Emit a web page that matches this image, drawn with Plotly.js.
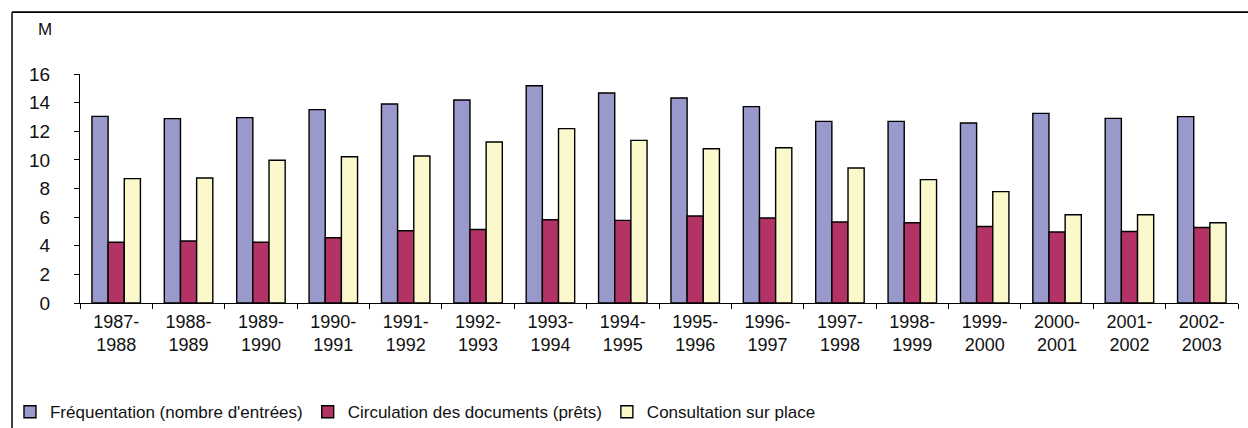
<!DOCTYPE html>
<html>
<head>
<meta charset="utf-8">
<script src="https://cdn.plot.ly/plotly-3.0.1.min.js"></script>
<style>html,body{margin:0;padding:0;background:#fff;}#chart{width:1248px;height:428px;}</style>
</head>
<body>
<div id="chart"></div>
<script>
const categories = ["1987-<br>1988","1988-<br>1989","1989-<br>1990","1990-<br>1991","1991-<br>1992","1992-<br>1993","1993-<br>1994","1994-<br>1995","1995-<br>1996","1996-<br>1997","1997-<br>1998","1998-<br>1999","1999-<br>2000","2000-<br>2001","2001-<br>2002","2002-<br>2003"];
const frequentation = [13.04,12.88,12.95,13.51,13.90,14.18,15.18,14.67,14.32,13.72,12.69,12.69,12.58,13.25,12.90,13.02];
const circulation = [4.24,4.33,4.24,4.56,5.05,5.14,5.82,5.77,6.08,5.94,5.66,5.61,5.35,4.96,5.00,5.28];
const consultation = [8.69,8.73,9.97,10.22,10.27,11.25,12.18,11.36,10.78,10.85,9.43,8.62,7.78,6.17,6.17,5.61];
const seriesNames = ["Fréquentation (nombre d'entrées)","Circulation des documents (prêts)","Consultation sur place"];
const colors = ["#9999cc","#b33366","#fbf8cc"];

const mk = (vals, i) => ({
  type: 'bar', x: categories, y: vals, name: seriesNames[i],
  marker: {color: colors[i], line: {color: '#000', width: 1.4}},
  hoverinfo: 'y'
});

const data = [mk(frequentation,0), mk(circulation,1), mk(consultation,2)];

const fam = 'Liberation Sans, Arial, sans-serif';

const layout = {
  width: 1248, height: 428,
  margin: {l: 80, r: 10, t: 74, b: 125},
  paper_bgcolor: '#fff', plot_bgcolor: '#fff',
  barmode: 'group', bargap: 0.33, bargroupgap: 0,
  font: {family: fam, color: '#000', size: 18},
  showlegend: true,
  legend: {orientation: 'h', xref: 'container', x: 0.008, xanchor: 'left',
           yref: 'container', y: 0.037, yanchor: 'middle', bgcolor: 'rgba(0,0,0,0)',
           font: {size: 17, family: fam, color: '#111'}, itemwidth: 30, traceorder: 'normal'},
  xaxis: {
    type: 'category', showline: true, linecolor: '#000', linewidth: 1,
    ticks: 'outside', tickson: 'boundaries', ticklen: 5, tickcolor: '#000',
    showgrid: false, tickfont: {size: 18, color: '#111', family: fam},
    ticklabelstandoff: 2, fixedrange: true
  },
  yaxis: {
    range: [0, 16], dtick: 2, showline: true, linecolor: '#000', linewidth: 1,
    ticks: 'outside', ticklen: 5, tickcolor: '#000', showgrid: false, zeroline: false,
    tickfont: {size: 19, family: fam, color: '#111'}, ticklabelstandoff: 20, fixedrange: true
  },
  annotations: [{text: 'M', xref: 'paper', yref: 'paper', x: -0.0305, y: 1.195,
    xanchor: 'center', yanchor: 'middle', showarrow: false,
    font: {size: 17, family: fam, color: '#111'}}],
  shapes: [
    {type: 'line', xref: 'paper', yref: 'paper', x0: -0.0587, x1: 1.01, y0: 1.27, y1: 1.27, line: {color: '#000', width: 1.8}},
    {type: 'line', xref: 'paper', yref: 'paper', x0: -0.0587, x1: -0.0587, y0: 1.27, y1: -0.56, line: {color: '#000', width: 1.5}}
  ]
};

Plotly.newPlot('chart', data, layout, {displayModeBar: false, staticPlot: true});
</script>
</body>
</html>
